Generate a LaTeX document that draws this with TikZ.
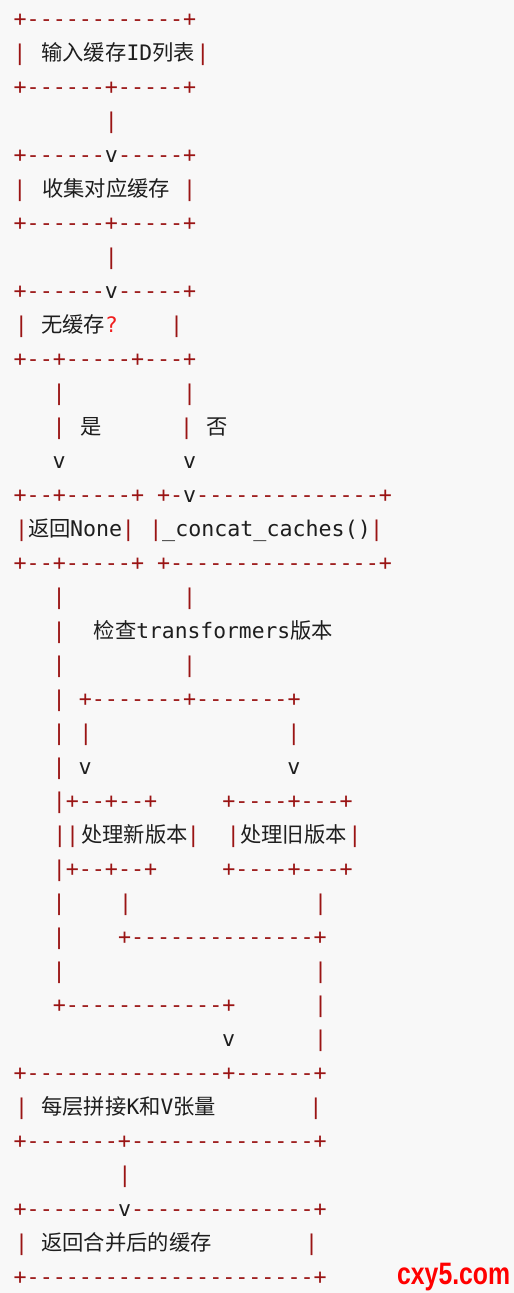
\documentclass[tikz,border=0pt]{standalone}
\usepackage{fontspec}
\newfontfamily\monofont{DejaVu Sans Mono}[Ligatures=TeXOff]
\newfontfamily\cjkfont{Noto Sans CJK SC}
\newfontfamily\markfont{Liberation Sans}
\usepackage{xcolor}
\definecolor{asciired}{HTML}{9A1414}
\definecolor{ink}{HTML}{1E1E1E}
\definecolor{qmark}{HTML}{F01E1E}
\definecolor{stamp}{HTML}{FF0000}
\definecolor{paper}{HTML}{F8F8F8}
\newcommand{\vtip}{\textcolor{ink}{v}}

\begin{document}
\begin{tikzpicture}[x=13.04pt, y=-34pt,
  art/.style={font={\fontsize{21.66}{26}\monofont}, text=asciired, inner sep=0pt, anchor=base west},
  bar/.style={font={\fontsize{21.66}{26}\monofont}, text=asciired, inner sep=0pt, anchor=base},
  vmark/.style={font={\fontsize{21.66}{26}\monofont}, text=ink, inner sep=0pt, anchor=base},
  word/.style={font={\fontsize{21.3}{26}\cjkfont}, text=ink, inner sep=0pt, anchor=base west}]
  \useasboundingbox (-1.534,-0.779) rectangle (37.88,37.25);
  \fill[paper] (-1.534,-0.779) rectangle (37.88,37.25);
  % load cache list
  \node[art] (r0) at (-0.5,0) {+------------+};
  \node[bar] (r1a) at (0,1) {|};
  \node[word] (r1b) at (1.62,1) {输入缓存{\monofont ID}列表};
  \node[bar] (r1c) at (14.03,1) {|};
  \node[art] (r2) at (-0.5,2) {+------+-----+};
  \node[bar] (r3) at (7,3) {|};
  \node[art] (r4) at (-0.5,4) {+------\vtip-----+};
  % collect caches
  \node[bar] (r5a) at (0,5) {|};
  \node[word] (r5b) at (1.68,5) {收集对应缓存};
  \node[bar] (r5c) at (13,5) {|};
  \node[art] (r6) at (-0.5,6) {+------+-----+};
  \node[bar] (r7) at (7,7) {|};
  \node[art] (r8) at (-0.5,8) {+------\vtip-----+};
  % empty test
  \node[bar] (r9a) at (0.1,9) {|};
  \node[word] (r9b) at (1.62,9) {无缓存{\monofont\color{qmark}?}};
  \node[bar] (r9c) at (12.02,9) {|};
  \node[art] (r10) at (-0.5,10) {+--+-----+---+};
  \node[bar] (r11a) at (3,11) {|};
  \node[bar] (r11b) at (13,11) {|};
  \node[bar] (r12a) at (3,12) {|};
  \node[word] (r12b) at (4.62,12) {是};
  \node[bar] (r12c) at (12.78,12) {|};
  \node[word] (r12d) at (14.29,12) {否};
  \node[vmark] (r13a) at (3,13) {v};
  \node[vmark] (r13b) at (13,13) {v};
  % two branches
  \node[art] (r14a) at (-0.5,14) {+--+-----+};
  \node[art] (r14b) at (10.5,14) {+-\vtip--------------+};
  \node[bar] (r15a) at (0.13,15) {|};
  \node[word] (r15b) at (0.6,15) {返回};
  \node[art, text=ink] (r15c) at (3.82,15) {None};
  \node[bar] (r15d) at (8.31,15) {|};
  \node[bar] (r15e) at (10.43,15) {|};
  \node[art, text=ink] (r15f) at (10.89,15) {\_concat\_caches()};
  \node[bar] (r15g) at (27.35,15) {|};
  \node[art] (r16a) at (-0.5,16) {+--+-----+};
  \node[art] (r16b) at (10.5,16) {+----------------+};
  \node[bar] (r17a) at (3,17) {|};
  \node[bar] (r17b) at (13,17) {|};
  \node[bar] (r18a) at (3,18) {|};
  \node[word] (r18b) at (5.64,18) {检查{\monofont transformers}版本};
  \node[bar] (r19a) at (3,19) {|};
  \node[bar] (r19b) at (13,19) {|};
  % version split
  \node[bar] (r20a) at (3,20) {|};
  \node[art] (r20b) at (4.5,20) {+-------+-------+};
  \node[bar] (r21a) at (3,21) {|};
  \node[bar] (r21b) at (5.05,21) {|};
  \node[bar] (r21c) at (21,21) {|};
  \node[bar] (r22a) at (3,22) {|};
  \node[vmark] (r22b) at (5,22) {v};
  \node[vmark] (r22c) at (21,22) {v};
  \node[art] (r23a) at (2.5,23) {|+--+--+};
  \node[art] (r23b) at (15.5,23) {+----+---+};
  \node[bar] (r24a) at (3.05,24) {|};
  \node[bar] (r24b) at (4.04,24) {|};
  \node[word] (r24c) at (4.68,24) {处理新版本};
  \node[bar] (r24d) at (13.29,24) {|};
  \node[bar] (r24e) at (16.36,24) {|};
  \node[word] (r24f) at (16.87,24) {处理旧版本};
  \node[bar] (r24g) at (25.69,24) {|};
  \node[art] (r25a) at (2.5,25) {|+--+--+};
  \node[art] (r25b) at (15.5,25) {+----+---+};
  \node[bar] (r26a) at (3,26) {|};
  \node[bar] (r26b) at (8.1,26) {|};
  \node[bar] (r26c) at (23.05,26) {|};
  \node[bar] (r27a) at (3,27) {|};
  \node[art] (r27b) at (7.5,27) {+--------------+};
  \node[bar] (r28a) at (3,28) {|};
  \node[bar] (r28b) at (23.05,28) {|};
  \node[art] (r29a) at (2.5,29) {+------------+};
  \node[bar] (r29b) at (23.05,29) {|};
  \node[vmark] (r30a) at (16,30) {v};
  \node[bar] (r30b) at (23.05,30) {|};
  % concat layers
  \node[art] (r31) at (-0.5,31) {+---------------+------+};
  \node[bar] (r32a) at (0.13,32) {|};
  \node[word] (r32b) at (1.62,32) {每层拼接{\monofont K}和{\monofont V}张量};
  \node[bar] (r32c) at (22.7,32) {|};
  \node[art] (r33) at (-0.5,33) {+-------+--------------+};
  \node[bar] (r34) at (8.05,34) {|};
  \node[art] (r35) at (-0.5,35) {+-------\vtip--------------+};
  % merged result
  \node[bar] (r36a) at (0.13,36) {|};
  \node[word] (r36b) at (1.62,36) {返回合并后的缓存};
  \node[bar] (r36c) at (22.37,36) {|};
  \node[art] (r37) at (-0.5,37) {+----------------------+};
  \node[font={\fontsize{31}{31}\markfont\bfseries}, text=stamp, inner sep=0pt,
        anchor=base west, xscale=0.8] (mark) at (28.91,37.01) {cxy5.com};
\end{tikzpicture}
\end{document}
